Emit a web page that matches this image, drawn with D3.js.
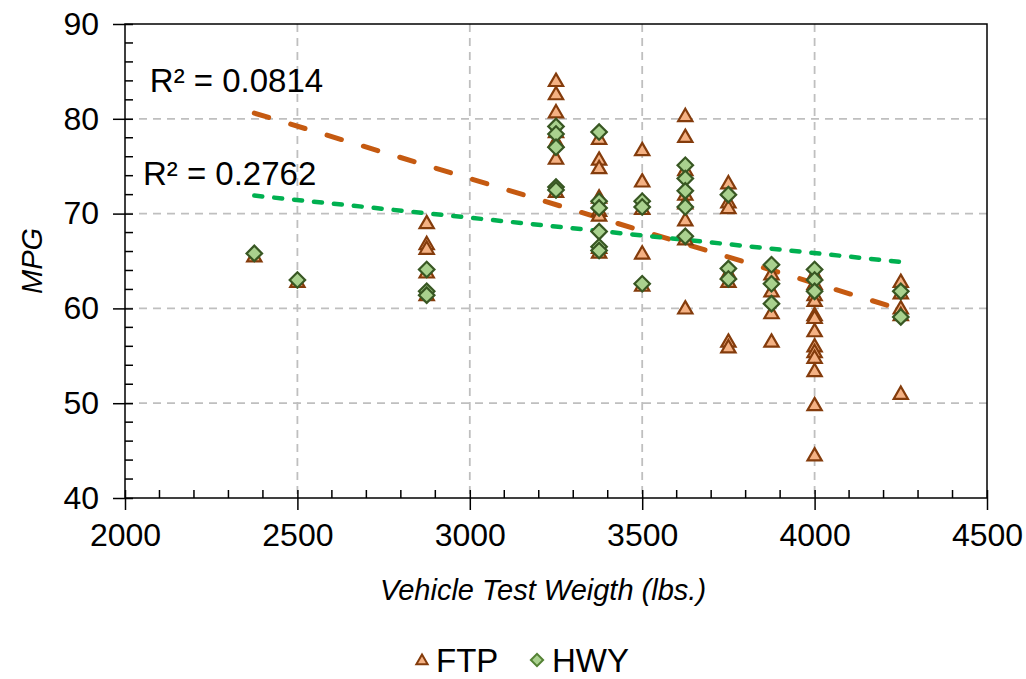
<!DOCTYPE html>
<html>
<head>
<meta charset="utf-8">
<script src="https://cdn.jsdelivr.net/npm/d3@7"></script>
<style>
  body { margin: 0; background: #fff; }
  svg { font-family: "Liberation Sans", Arial, sans-serif; }
</style>
</head>
<body>
<div class="chart-holder"></div>
<script>
// FTP test results (weight in lbs, mpg)
var ftpWeight = [2375, 2500,
  2875, 2875, 2875, 2875, 2875,
  3250, 3250, 3250, 3250, 3250, 3250, 3250,
  3375, 3375, 3375, 3375, 3375, 3375, 3375, 3375,
  3500, 3500, 3500, 3500, 3500,
  3625, 3625, 3625, 3625, 3625, 3625, 3625, 3625,
  3750, 3750, 3750, 3750, 3750, 3750, 3750,
  3875, 3875, 3875, 3875,
  4000, 4000, 4000, 4000, 4000, 4000, 4000, 4000, 4000, 4000, 4000, 4000, 4000,
  4250, 4250, 4250, 4250, 4250];
var ftpMpg = [65.5, 62.8,
  69.0, 66.8, 66.3, 63.8, 61.4,
  84.0, 82.6, 80.7, 78.6, 77.6, 75.8, 72.3,
  77.9, 75.7, 74.8, 71.7, 70.3, 69.8, 66.4, 65.9,
  76.7, 73.4, 70.5, 65.8, 62.4,
  80.3, 78.1, 74.6, 72.0, 71.1, 69.3, 67.3, 60.0,
  73.2, 71.2, 70.6, 63.7, 62.8, 56.5, 55.9,
  63.6, 61.8, 59.5, 56.5,
  63.6, 62.6, 61.4, 60.8, 59.3, 59.0, 57.6, 56.0, 55.4, 54.8, 53.4, 49.8, 44.5,
  62.8, 61.6, 60.0, 59.3, 51.0];

// HWY test results
var hwyWeight = [2375, 2500,
  2875, 2875, 2875,
  3250, 3250, 3250, 3250, 3250,
  3375, 3375, 3375, 3375, 3375, 3375,
  3500, 3500, 3500,
  3625, 3625, 3625, 3625, 3625,
  3750, 3750, 3750,
  3875, 3875, 3875,
  4000, 4000, 4000,
  4250, 4250];
var hwyMpg = [65.8, 63.0,
  64.1, 61.8, 61.4,
  79.2, 78.4, 77.0, 72.8, 72.5,
  78.6, 71.3, 70.6, 68.1, 66.5, 66.1,
  71.3, 70.7, 62.6,
  75.1, 73.7, 72.4, 70.7, 67.6,
  72.0, 64.2, 63.1,
  64.6, 62.6, 60.5,
  64.1, 63.0, 61.8,
  61.8, 59.1];

// linear trend end points
var ftpTrendX = [2375, 4250], ftpTrendY = [80.6, 59.9];
var hwyTrendX = [2375, 4250], hwyTrendY = [71.9, 64.9];

var xTicks = [2000, 2500, 3000, 3500, 4000, 4500];
var yTicks = [40, 50, 60, 70, 80, 90];
var r2Labels = ["R² = 0.0814", "R² = 0.2762"];
var seriesNames = ["FTP", "HWY"];

var width = 1026, height = 679;
var margin = {top: 24, right: 39, bottom: 181, left: 125};
var w = width - margin.left - margin.right;
var h = height - margin.top - margin.bottom;

var svg = d3.select(".chart-holder").append("svg")
    .attr("width", width)
    .attr("height", height);

var x = d3.scaleLinear().domain([2000, 4500]).range([0, w]);
var y = d3.scaleLinear().domain([40, 90]).range([h, 0]);

var grp = svg.append("g").attr("transform", `translate(${margin.left}, ${margin.top})`);

// dashed grid
grp.append("g").selectAll("line")
    .data(xTicks.filter(function(d) { return d > 2000 && d < 4500; }))
  .enter().append("line")
    .attr("x1", x).attr("x2", x)
    .attr("y1", 0).attr("y2", h)
    .attr("stroke", "#bfbfbf").attr("stroke-width", 1.8)
    .attr("stroke-dasharray", "8,6");
grp.append("g").selectAll("line")
    .data(yTicks.filter(function(d) { return d > 40 && d < 90; }))
  .enter().append("line")
    .attr("x1", 0).attr("x2", w)
    .attr("y1", y).attr("y2", y)
    .attr("stroke", "#bfbfbf").attr("stroke-width", 1.8)
    .attr("stroke-dasharray", "8,6");

// frame
grp.append("rect")
    .attr("width", w).attr("height", h)
    .attr("fill", "none").attr("stroke", "#000").attr("stroke-width", 1.5);

// minor ticks (inside)
grp.append("g").selectAll("line")
    .data(d3.range(2100, 4500, 100).filter(function(d) { return d % 500 != 0; }))
  .enter().append("line")
    .attr("x1", x).attr("x2", x)
    .attr("y1", h).attr("y2", h - 8)
    .attr("stroke", "#000").attr("stroke-width", 1.5);
grp.append("g").selectAll("line")
    .data(d3.range(42, 90, 2).filter(function(d) { return d % 10 != 0; }))
  .enter().append("line")
    .attr("x1", 0).attr("x2", 8)
    .attr("y1", y).attr("y2", y)
    .attr("stroke", "#000").attr("stroke-width", 1.5);

// major ticks (cross)
var xAxis = grp.append("g").attr("transform", `translate(0, ${h})`)
    .call(d3.axisBottom(x).tickValues(xTicks).tickFormat(d3.format("d"))
      .tickSizeInner(12).tickSizeOuter(0).tickPadding(13));
var yAxis = grp.append("g")
    .call(d3.axisLeft(y).tickValues(yTicks).tickFormat(d3.format("d"))
      .tickSizeInner(12).tickSizeOuter(0).tickPadding(14));
[xAxis, yAxis].forEach(function(a) {
  a.select(".domain").remove();
  a.selectAll(".tick line").attr("stroke-width", 1.5);
  a.selectAll("text").style("font-size", "32px").attr("fill", "#000")
    .style("font-family", "'Liberation Sans', Arial, sans-serif");
});
xAxis.selectAll(".tick line").attr("y1", -8);
yAxis.selectAll(".tick line").attr("x1", 8);

// trend lines
var line = d3.line().x(function(d) { return x(d[0]); }).y(function(d) { return y(d[1]); });
grp.append("path")
    .attr("d", line(d3.zip(ftpTrendX, ftpTrendY)))
    .attr("fill", "none").attr("stroke", "#c55a11").attr("stroke-width", 5)
    .attr("stroke-linecap", "round").attr("stroke-dasharray", "15,23");
grp.append("path")
    .attr("d", line(d3.zip(hwyTrendX, hwyTrendY)))
    .attr("fill", "none").attr("stroke", "#00b050").attr("stroke-width", 4.5)
    .attr("stroke-linecap", "round").attr("stroke-dasharray", "8,12");

// markers
var tri = d3.symbol().type(d3.symbolTriangle).size(88);
var dia = d3.symbol().type(d3.symbolSquare).size(120);
grp.append("g").selectAll("path")
    .data(d3.zip(ftpWeight, ftpMpg))
  .enter().append("path")
    .attr("d", tri)
    .attr("transform", function(d) { return `translate(${x(d[0])}, ${y(d[1]) + 1})`; })
    .attr("fill", "#f4b183").attr("stroke", "#843c0c").attr("stroke-width", 2.2);
grp.append("g").selectAll("path")
    .data(d3.zip(hwyWeight, hwyMpg))
  .enter().append("path")
    .attr("d", dia)
    .attr("transform", function(d) { return `translate(${x(d[0])}, ${y(d[1])}) rotate(45)`; })
    .attr("fill", "#a9d18e").attr("stroke", "#385723").attr("stroke-width", 2.2);

// R² labels
grp.append("text").attr("x", x(2072)).attr("y", y(82.8))
    .style("font-size", "33px").text(r2Labels[0]);
grp.append("text").attr("x", x(2052)).attr("y", y(73.0))
    .style("font-size", "33px").text(r2Labels[1]);

// axis titles
svg.append("text")
    .attr("transform", `translate(42, ${margin.top + h / 2}) rotate(-90)`)
    .attr("text-anchor", "middle")
    .style("font-size", "29px").style("font-style", "italic")
    .text("MPG");
svg.append("text")
    .attr("x", 543).attr("y", 600)
    .attr("text-anchor", "middle")
    .style("font-size", "29px").style("font-style", "italic")
    .text("Vehicle Test Weigth (lbs.)");

// legend
var legend = svg.append("g").attr("transform", "translate(0, 660)");
legend.append("path").attr("d", d3.symbol().type(d3.symbolTriangle).size(55))
    .attr("transform", "translate(422, 1)")
    .attr("fill", "#f4b183").attr("stroke", "#843c0c").attr("stroke-width", 2);
legend.append("text").attr("x", 436).attr("y", 12).style("font-size", "33px").text(seriesNames[0]);
legend.append("path").attr("d", d3.symbol().type(d3.symbolSquare).size(75))
    .attr("transform", "translate(537, 0) rotate(45)")
    .attr("fill", "#a9d18e").attr("stroke", "#548235").attr("stroke-width", 2);
legend.append("text").attr("x", 552).attr("y", 12).style("font-size", "33px").text(seriesNames[1]);
</script>
</body>
</html>
